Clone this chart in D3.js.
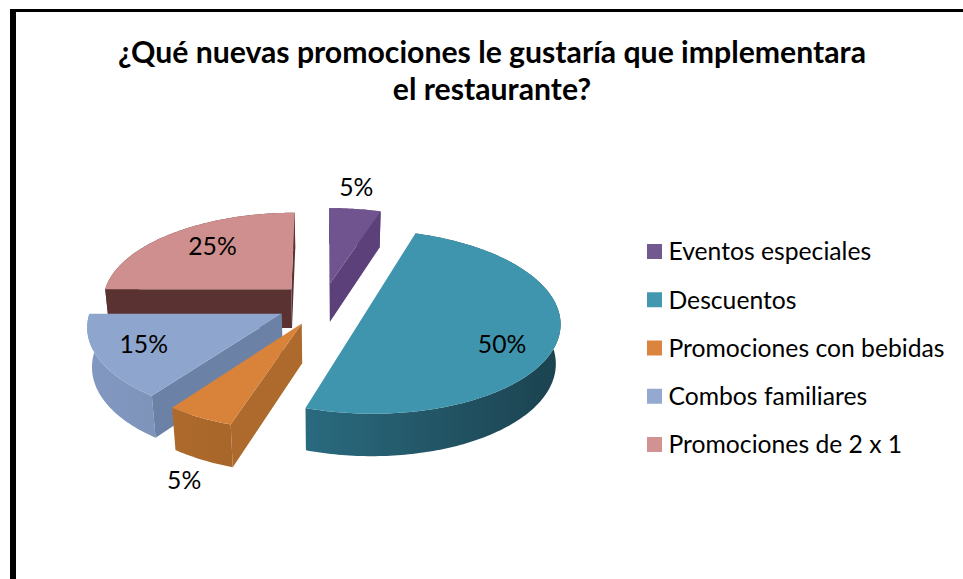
<!DOCTYPE html>
<html>
<head>
<meta charset="utf-8">
<script src="https://cdn.jsdelivr.net/npm/d3@7"></script>
<style>
  html, body { margin: 0; padding: 0; background: #fff; }
  svg { display: block; font-family: Lato, sans-serif; }
</style>
</head>
<body>
<div id="chart"></div>
<script>
const categories = ["Eventos especiales", "Descuentos", "Promociones con bebidas", "Combos familiares", "Promociones de 2 x 1"];
const values = [5, 50, 5, 15, 25];
const titleLines = ["¿Qué nuevas promociones le gustaría que implementara", "el restaurante?"];

// face colours, same order as categories
const topColors = ["#70548f", "#3f95ae", "#d98239", "#8ea5cd", "#cf8f8e"];
const legendColors = ["#71588f", "#4198af", "#db843d", "#93a9cf", "#d19392"];
const sideColors = ["#5b4079", "#24596b", "#ad6a2c", "#6b81a6", "#5a3232"];
const wallLeft = ["#5b4079", "#2a6a7f", "#ad6a2c", "#8298c0", "#5a3232"];
const wallRight = ["#5b4079", "#1b424f", "#a9662a", "#7e94bb", "#5a3232"];

// where each % label sits, in pie units (radius, degrees clockwise from top)
const labelRadius = [1.34, 0.755, 1.465, 0.753, 0.704];
const labelAngle = [7.3, 118.2, 199.2, 244.7, 319.1];

const width = 963;
const height = 579;
const cx = 323;
const cy = 304;
const rx = 190;
const ry = 89;
const thickness = 40;
const explode = 0.24;
const persp = 0.12;
const perspZ = 0.02;

const svg = d3.select("#chart").append("svg")
  .attr("width", width)
  .attr("height", height);

const defs = svg.append("defs");

// frame, only top and left are in the picture
svg.append("rect").attr("x", 10).attr("y", 9).attr("width", width - 10).attr("height", 3).attr("fill", "#000");
svg.append("rect").attr("x", 10).attr("y", 9).attr("width", 6).attr("height", height - 9).attr("fill", "#000");

svg.selectAll("text.title")
  .data(titleLines)
  .enter()
  .append("text")
  .attr("class", "title")
  .attr("x", 492)
  .attr("y", (d, i) => 63 + i * 37)
  .attr("text-anchor", "middle")
  .attr("font-size", 30.2)
  .attr("font-weight", 700)
  .attr("fill", "#000")
  .text((d) => d);

// plane coords to screen, a rough perspective so the near side comes out bigger
function project(X, Y, Z) {
  const w = 1 + persp * Y + perspZ * Z;
  return [cx + (rx * X) / w, cy - (ry * Y) / w + (thickness * Z) / w];
}

const slices = d3.pie().sort(null).startAngle(0).endAngle(2 * Math.PI)(values);

function rim(s, a, Z) {
  const mid = (s.startAngle + s.endAngle) / 2;
  const ex = explode * Math.sin(mid);
  const ey = explode * Math.cos(mid);
  return project(ex + Math.sin(a), ey + Math.cos(a), Z);
}

function apex(s, Z) {
  const mid = (s.startAngle + s.endAngle) / 2;
  return project(explode * Math.sin(mid), explode * Math.cos(mid), Z);
}

const line = d3.line();

// back to front
const drawOrder = [0, 4, 3, 1, 2];

drawOrder.forEach((i) => {
  const s = slices[i];
  const g = svg.append("g").attr("class", "slice");
  const arcAngles = d3.range(s.startAngle, s.endAngle, Math.PI / 180).concat([s.endAngle]);
  const topRim = arcAngles.map((a) => rim(s, a, 0));
  const bottomRim = arcAngles.map((a) => rim(s, a, 1)).reverse();

  // outer wall, shaded left to right
  const xs = topRim.map((p) => p[0]);
  const grad = defs.append("linearGradient")
    .attr("id", `wall${i}`)
    .attr("gradientUnits", "userSpaceOnUse")
    .attr("x1", d3.min(xs))
    .attr("x2", d3.max(xs))
    .attr("y1", 0)
    .attr("y2", 0);
  grad.append("stop").attr("offset", 0).attr("stop-color", wallLeft[i]);
  grad.append("stop").attr("offset", 1).attr("stop-color", wallRight[i]);

  g.append("path")
    .attr("d", line(topRim.concat(bottomRim)) + "Z")
    .attr("fill", `url(#wall${i})`);

  // radial faces, only when the thickness shows below the edge
  const A = apex(s, 0);
  const midRim = rim(s, (s.startAngle + s.endAngle) / 2, 0);
  [s.startAngle, s.endAngle].forEach((a) => {
    const B = rim(s, a, 0);
    const inner = (B[0] - A[0]) * (midRim[1] - A[1]) - (B[1] - A[1]) * (midRim[0] - A[0]);
    const down = B[0] - A[0];
    if (inner * down < 0) {
      g.append("path")
        .attr("d", line([A, B, rim(s, a, 1), apex(s, 1)]) + "Z")
        .attr("fill", sideColors[i]);
    }
  });

  // top face
  g.append("path")
    .attr("d", line([A].concat(topRim)) + "Z")
    .attr("fill", topColors[i]);
});

// percent labels
const total = d3.sum(values);
svg.selectAll("text.pct")
  .data(slices)
  .enter()
  .append("text")
  .attr("class", "pct")
  .attr("transform", (d, i) => {
    const mid = (d.startAngle + d.endAngle) / 2;
    const a = (labelAngle[i] * Math.PI) / 180;
    const p = project(
      explode * Math.sin(mid) + labelRadius[i] * Math.sin(a),
      explode * Math.cos(mid) + labelRadius[i] * Math.cos(a),
      0
    );
    return `translate(${p[0]},${p[1]})`;
  })
  .attr("dy", "0.36em")
  .attr("text-anchor", "middle")
  .attr("font-size", 24.7)
  .attr("fill", "#000")
  .text((d) => `${Math.round((d.value / total) * 100)}%`);

// legend
const legendY = d3.scalePoint().domain(categories).range([251.5, 444.5]);
const legend = svg.selectAll("g.legend-item")
  .data(categories)
  .enter()
  .append("g")
  .attr("class", "legend-item")
  .attr("transform", (d) => `translate(647,${legendY(d)})`);

legend.append("rect")
  .attr("y", -7.5)
  .attr("width", 15)
  .attr("height", 15)
  .attr("fill", (d, i) => legendColors[i]);

legend.append("text")
  .attr("x", 21.5)
  .attr("dy", "0.36em")
  .attr("font-size", 24.7)
  .attr("fill", "#000")
  .text((d) => d);
</script>
</body>
</html>
